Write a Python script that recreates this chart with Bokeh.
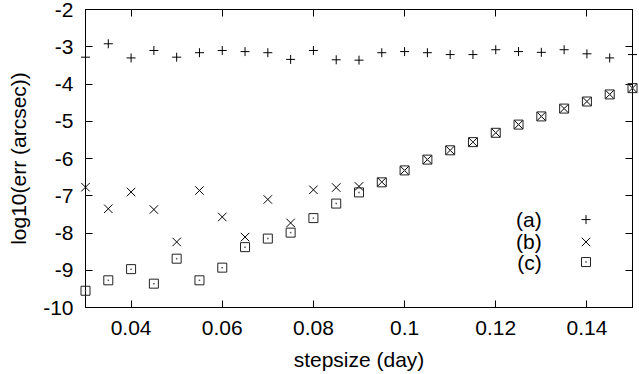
from bokeh.plotting import figure
from bokeh.models import Range1d, LinearAxis, FixedTicker, Label, CustomJSTickFormatter
from bokeh.embed import file_html
from bokeh.resources import INLINE

stepsize = [0.030, 0.035, 0.040, 0.045, 0.050, 0.055, 0.060, 0.065, 0.070, 0.075,
            0.080, 0.085, 0.090, 0.095, 0.100, 0.105, 0.110, 0.115, 0.120, 0.125,
            0.130, 0.135, 0.140, 0.145, 0.150]
err_a = [-3.28, -2.92, -3.30, -3.10, -3.28, -3.16, -3.10, -3.13, -3.16, -3.34,
         -3.10, -3.35, -3.36, -3.16, -3.13, -3.16, -3.21, -3.21, -3.08, -3.13,
         -3.15, -3.08, -3.19, -3.30, -3.21]
err_b = [-6.77, -7.35, -6.90, -7.37, -8.24, -6.86, -7.57, -8.11, -7.10, -7.73,
         -6.84, -6.78, -6.75, -6.63, -6.32, -6.03, -5.78, -5.56, -5.31, -5.09,
         -4.87, -4.66, -4.47, -4.28, -4.11]
err_c = [-9.55, -9.27, -8.97, -9.36, -8.69, -9.27, -8.93, -8.38, -8.15, -7.99,
         -7.60, -7.21, -6.91, -6.64, -6.32, -6.03, -5.78, -5.56, -5.31, -5.09,
         -4.87, -4.66, -4.47, -4.28, -4.11]

xticks = [0.04, 0.06, 0.08, 0.10, 0.12, 0.14]
xtick_labels = ["0.04", "0.06", "0.08", "0.1", "0.12", "0.14"]
yticks = [-10, -9, -8, -7, -6, -5, -4, -3, -2]
ytick_labels = ["-10", "-9", "-8", "-7", "-6", "-5", "-4", "-3", "-2"]
legend_labels = ["(a)", "(b)", "(c)"]
# legend anchor (data space)
leg_x = 0.1398
leg_text_x = 0.1301
leg_rows = [-7.64, -8.24, -8.78]

FONT = "Liberation Sans"
FS = "21px"

p = figure(width=639, height=374, output_backend="svg", toolbar_location=None,
           x_range=Range1d(0.03, 0.15), y_range=Range1d(-10, -2),
           min_border_left=85, min_border_right=7, min_border_top=9, min_border_bottom=67)
p.grid.visible = False
p.outline_line_color = "black"
p.outline_line_width = 1
p.background_fill_color = "white"
p.border_fill_color = "white"

for ax in p.xaxis:
    ax.ticker = FixedTicker(ticks=xticks)
    ax.major_label_overrides = {t: l for t, l in zip(xticks, xtick_labels)}
    ax.axis_label = "stepsize (day)"
    ax.major_label_standoff = 13
    ax.axis_label_standoff = 10
for ax in p.yaxis:
    ax.ticker = FixedTicker(ticks=yticks)
    ax.major_label_overrides = {t: l for t, l in zip(yticks, ytick_labels)}
    ax.axis_label = "log10(err (arcsec))"
    ax.major_label_standoff = 12
    ax.axis_label_standoff = 10

for ax in p.xaxis + p.yaxis:
    ax.major_tick_in = 7
    ax.major_tick_out = 0
    ax.minor_tick_line_color = None
    ax.axis_line_color = "black"
    ax.major_tick_line_color = "black"
    ax.major_label_text_font = FONT
    ax.major_label_text_font_size = FS
    ax.major_label_text_color = "black"
    ax.axis_label_text_font = FONT
    ax.axis_label_text_font_size = FS
    ax.axis_label_text_font_style = "normal"
    ax.axis_label_text_color = "black"

blank = CustomJSTickFormatter(code="return '';")
top = LinearAxis(ticker=FixedTicker(ticks=xticks), formatter=blank, major_tick_in=7,
                 major_tick_out=0, minor_tick_line_color=None, major_label_text_font_size="0px",
                 major_label_standoff=0)
right = LinearAxis(ticker=FixedTicker(ticks=yticks), formatter=blank, major_tick_in=7,
                   major_tick_out=0, minor_tick_line_color=None, major_label_text_font_size="0px",
                   major_label_standoff=0)
p.add_layout(top, "above")
p.add_layout(right, "right")

p.scatter(stepsize, err_a, marker="cross", size=9, line_color="black", line_width=1, level="overlay")
p.scatter(stepsize, err_b, marker="x", size=12, line_color="black", line_width=1, level="overlay")
p.scatter(stepsize, err_c, marker="square", size=9, line_color="#222222", fill_color=None,
          line_width=1, level="overlay")
p.scatter(stepsize, err_c, marker="square", size=1.5, line_color=None, fill_color="#555555", level="overlay")

# legend
leg_markers = ["cross", "x", "square"]
for lbl, yy, mk in zip(legend_labels, leg_rows, leg_markers):
    p.add_layout(Label(x=leg_text_x, y=yy, text=lbl, text_align="right", text_baseline="middle",
                       text_font=FONT, text_font_size=FS, text_color="black"))
    if mk == "square":
        p.scatter([leg_x], [yy], marker="square", size=9, line_color="#222222", fill_color=None, line_width=1)
        p.scatter([leg_x], [yy], marker="square", size=1.5, line_color=None, fill_color="#555555")
    elif mk == "x":
        p.scatter([leg_x], [yy], marker="x", size=12, line_color="black", line_width=1)
    else:
        p.scatter([leg_x], [yy], marker="cross", size=9, line_color="black", line_width=1)

open("out.html", "w").write(file_html(p, INLINE))
